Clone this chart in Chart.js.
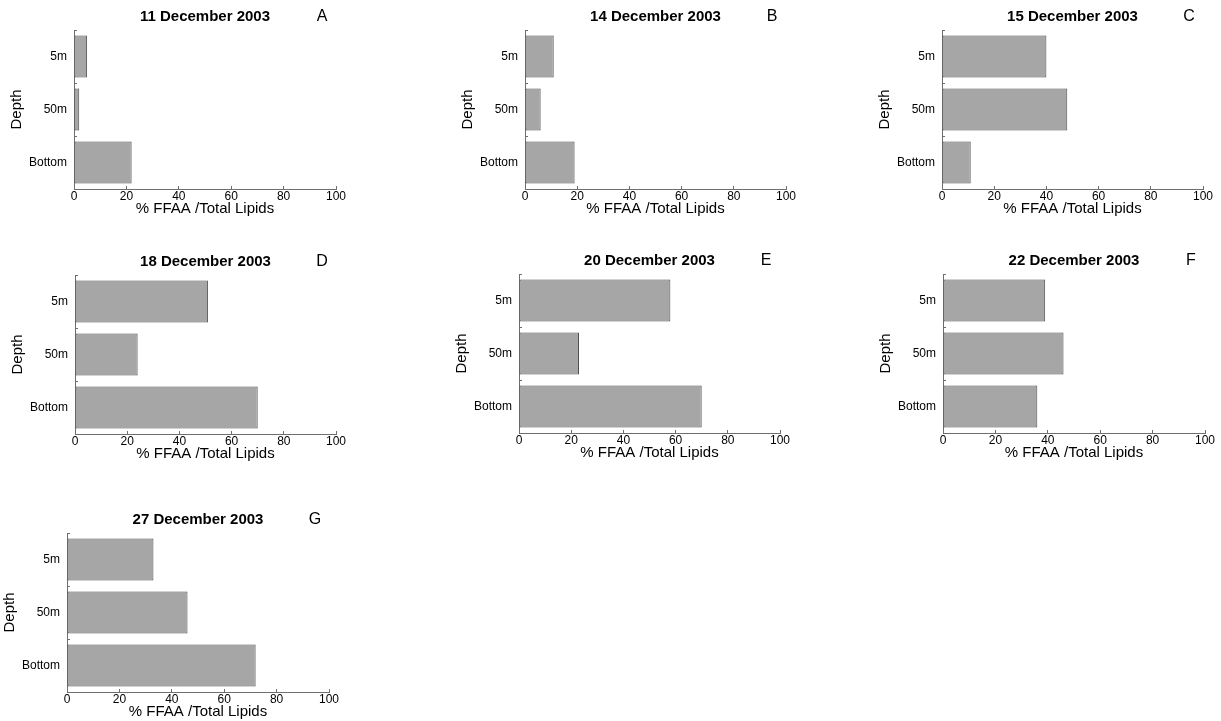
<!DOCTYPE html>
<html>
<head>
<meta charset="utf-8">
<script src="https://cdn.jsdelivr.net/npm/chart.js@4.4.1/dist/chart.umd.min.js"></script>
<style>
  html, body { margin: 0; padding: 0; background: #fff; overflow: hidden; width: 1221px; height: 721px; }
  canvas { position: absolute; }
</style>
</head>
<body>
<script>
// kategori kedalaman (dari atas ke bawah)
const depths = ["5m", "50m", "Bottom"];

// judul tiap panel dan hurufnya
const dates = [
  "11 December 2003", "14 December 2003", "15 December 2003",
  "18 December 2003", "20 December 2003", "22 December 2003",
  "27 December 2003",
];
const letters = ["A", "B", "C", "D", "E", "F", "G"];

// % FFAA / Total Lipids per kedalaman
const dec11 = [5, 2, 22];
const dec14 = [11, 6, 19];
const dec15 = [40, 48, 11];
const dec18 = [51, 24, 70];
const dec20 = [58, 23, 70];
const dec22 = [39, 46, 36];
const dec27 = [33, 46, 72];
const series = [dec11, dec14, dec15, dec18, dec20, dec22, dec27];

// sumbu x
const xMin = 0;
const xMax = 100;
const xStep = 20;
const xTitle = "% FFAA /Total Lipids";
const yTitle = "Depth";

// posisi area plot tiap panel: kiri, atas, lebar, tinggi
const panels = [
  [74, 30, 262, 159],
  [525, 30, 261, 159],
  [942, 30, 261, 159],
  [75, 275, 261, 159],
  [519, 274, 261, 159],
  [943, 274, 262, 159],
  [67, 533, 262, 159],
];

const FONT = "'Liberation Sans', Arial, sans-serif";
const AXIS = "#6e6e6e";
const LEFT = 74;   // lebar sumbu y
const TOP = 26;    // ruang judul
const BOTTOM = 29; // tinggi sumbu x

// plugin kecil untuk huruf panel (A, B, ...)
const letterPlugin = {
  id: "panelLetter",
  afterDraw(chart, args, opts) {
    const { ctx, chartArea } = chart;
    ctx.save();
    ctx.font = "16px " + FONT;
    ctx.fillStyle = "#000";
    ctx.textAlign = "center";
    ctx.textBaseline = "middle";
    ctx.fillText(opts.text, chartArea.right - 14, chartArea.top - 13);
    ctx.restore();
  },
};

function makePanel(i) {
  const [px, py, pw, ph] = panels[i];
  const canvas = document.createElement("canvas");
  const w = LEFT + pw + LEFT;
  const h = TOP + ph + BOTTOM;
  canvas.width = w;
  canvas.height = h;
  canvas.style.width = w + "px";
  canvas.style.height = h + "px";
  canvas.style.left = px - LEFT + "px";
  canvas.style.top = py - TOP + "px";
  document.body.appendChild(canvas);

  new Chart(canvas.getContext("2d"), {
    type: "bar",
    data: {
      labels: depths,
      datasets: [
        {
          data: series[i],
          backgroundColor: "#a6a6a6",
          borderColor: "#4d4d4d",
          borderWidth: 1,
          borderSkipped: false,
          barPercentage: 0.79,
          categoryPercentage: 1,
        },
      ],
    },
    plugins: [letterPlugin],
    options: {
      indexAxis: "y",
      responsive: false,
      animation: false,
      events: [],
      layout: { padding: { top: 4, left: 0, right: 0, bottom: 0 } },
      plugins: {
        legend: { display: false },
        tooltip: { enabled: false },
        title: {
          display: true,
          text: dates[i],
          color: "#000",
          font: { family: FONT, size: 15, weight: "bold" },
          padding: { top: 0, bottom: 4 },
        },
        panelLetter: { text: letters[i] },
      },
      scales: {
        x: {
          type: "linear",
          min: xMin,
          max: xMax,
          ticks: {
            stepSize: xStep,
            color: "#000",
            padding: 3,
            font: { family: FONT, size: 12 },
          },
          grid: { drawOnChartArea: false, drawTicks: true, tickLength: -3, tickColor: AXIS },
          border: { color: AXIS, width: 1 },
          title: {
            display: true,
            text: xTitle,
            color: "#000",
            font: { family: FONT, size: 15 },
            padding: { top: 0, bottom: 0 },
          },
          afterFit(s) { s.height = BOTTOM; },
        },
        y: {
          type: "category",
          ticks: {
            color: "#000",
            padding: 10,
            font: { family: FONT, size: 12 },
          },
          grid: { drawOnChartArea: false, drawTicks: true, tickLength: -3, tickColor: AXIS },
          border: { color: AXIS, width: 1 },
          title: {
            display: true,
            text: yTitle,
            color: "#000",
            font: { family: FONT, size: 15 },
            padding: { top: 8, bottom: 0 },
          },
          afterFit(s) { s.width = LEFT; },
        },
        // sumbu kosong di kanan supaya judul berada di tengah area plot
        spacer: {
          type: "linear",
          position: "right",
          display: true,
          ticks: { display: false },
          grid: { display: false },
          border: { display: false },
          afterFit(s) { s.width = LEFT; },
        },
      },
    },
  });
}

for (let i = 0; i < panels.length; i++) {
  makePanel(i);
}
</script>
</body>
</html>
